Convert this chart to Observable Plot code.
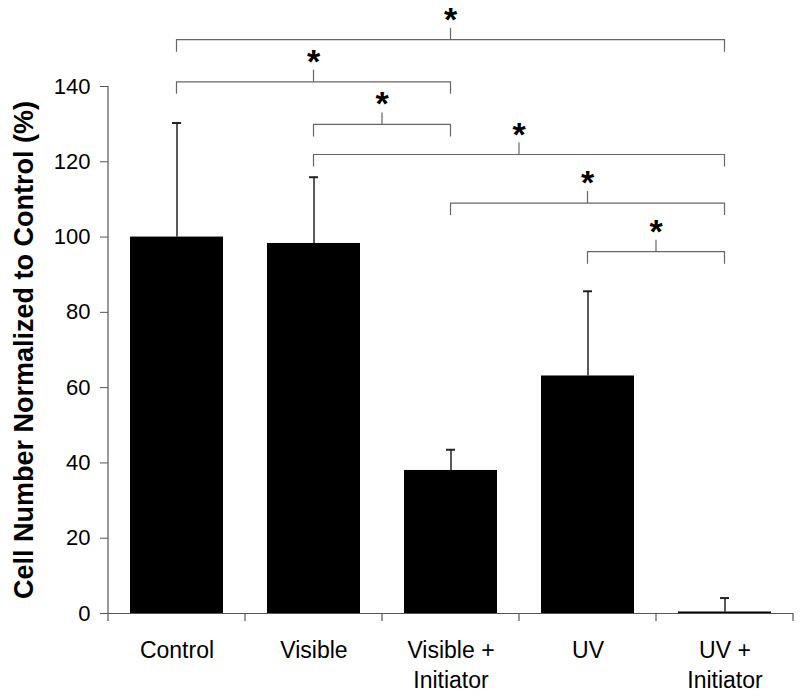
<!DOCTYPE html>
<html>
<head>
<meta charset="utf-8">
<script src="https://cdn.jsdelivr.net/npm/d3@7"></script>
<script src="https://cdn.jsdelivr.net/npm/@observablehq/plot@0.6"></script>
<style>
  html, body { margin: 0; padding: 0; background: #fff; }
</style>
</head>
<body>
<div id="chart"></div>
<script>
// ---- data ----
const categories = ["Control", "Visible", "Visible +\nInitiator", "UV", "UV +\nInitiator"];
const means = [100.0, 98.3, 38.0, 63.1, 0.4];
const errUpper = [130.3, 115.9, 43.5, 85.6, 4.1];
const yTicks = [0, 20, 40, 60, 80, 100, 120, 140];
const yLabel = "Cell Number Normalized to Control (%)";
// significance brackets (category indices, level in y units)
const bracketFrom = [0, 0, 1, 1, 2, 3];
const bracketTo = [4, 2, 2, 4, 4, 4];
const bracketLevel = [152.3, 141.1, 129.8, 121.8, 108.9, 96.0];
const bracketLabel = ["*", "*", "*", "*", "*", "*"];

const data = categories.map((c, i) => ({cat: c, mean: means[i], upper: errUpper[i]}));
const brackets = bracketFrom.map((f, i) => ({from: f, to: bracketTo[i], level: bracketLevel[i], label: bracketLabel[i]}));

const FONT = "'Liberation Sans', Arial, Helvetica, sans-serif";

function annotations(index, scales, values, dimensions) {
  const {x, y} = scales;
  const bw = x.bandwidth();
  const step = x(categories[1]) - x(categories[0]);
  const cx = i => x(categories[i]) + bw / 2;
  const g = d3.create("svg:g");
  // y axis line
  g.append("line")
    .attr("x1", dimensions.marginLeft).attr("x2", dimensions.marginLeft)
    .attr("y1", y(0)).attr("y2", y(yTicks[yTicks.length - 1]))
    .attr("stroke", "#555").attr("stroke-width", 1.2);
  // x category boundary ticks
  const bounds = categories.map(c => x(c) - (step - bw) / 2);
  bounds.push(x(categories[categories.length - 1]) + bw + (step - bw) / 2);
  for (const b of bounds) {
    g.append("line")
      .attr("x1", b).attr("x2", b)
      .attr("y1", y(0)).attr("y2", y(0) + 8)
      .attr("stroke", "#555").attr("stroke-width", 1.2);
  }
  // brackets
  for (const br of brackets) {
    const x1 = cx(br.from), x2 = cx(br.to), yy = y(br.level), xm = (x1 + x2) / 2;
    g.append("path")
      .attr("d", `M${x1},${yy + 12}V${yy}H${x2}V${yy + 12}M${xm},${yy}V${yy - 12}`)
      .attr("fill", "none").attr("stroke", "#666").attr("stroke-width", 1.2);
    g.append("text")
      .attr("x", xm).attr("y", yy - 9)
      .attr("text-anchor", "middle")
      .attr("font-family", FONT).attr("font-weight", "bold").attr("font-size", 34)
      .attr("fill", "#000")
      .text(br.label);
  }
  return g.node();
}

const chart = Plot.plot({
  width: 800,
  height: 700,
  marginLeft: 108,
  marginRight: 7,
  marginTop: 86,
  marginBottom: 87,
  style: {fontFamily: FONT, fontSize: "22px", color: "#000", background: "#fff"},
  x: {type: "band", domain: categories, paddingInner: 0.32, paddingOuter: 0.16, axis: null},
  y: {domain: [0, 140], axis: null},
  marks: [
    Plot.barY(data, {x: "cat", y: "mean", fill: "#000"}),
    Plot.ruleX(data, {x: "cat", y1: "mean", y2: "upper", stroke: "#222", strokeWidth: 1.5}),
    Plot.tickY(data, {x: "cat", y: "upper", stroke: "#222", strokeWidth: 2, insetLeft: 42, insetRight: 42}),
    Plot.ruleY([0], {stroke: "#555", strokeWidth: 1.2}),
    Plot.axisY({ticks: yTicks, tickSize: 8, tickPadding: 10, label: null, fontSize: 22, stroke: "#555", fill: "#000"}),
    Plot.text(categories, {x: d => d, frameAnchor: "bottom", lineAnchor: "top", dy: 23, fontSize: 23, lineHeight: 1.3, fill: "#000"}),
    Plot.text([yLabel], {frameAnchor: "left", textAnchor: "middle", rotate: -90, dx: -84, fontWeight: "bold", fontSize: 27, fill: "#000"}),
    annotations
  ]
});
document.getElementById("chart").appendChild(chart);
</script>
</body>
</html>
